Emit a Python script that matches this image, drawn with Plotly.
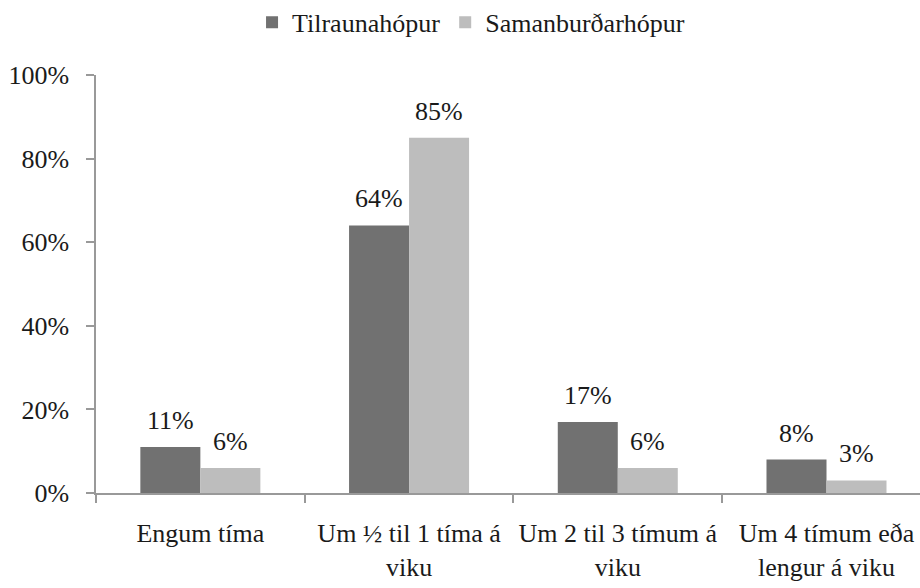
import plotly.graph_objects as go

categories = ["Engum tíma", "Um ½ til 1 tíma á<br>viku", "Um 2 til 3 tímum á<br>viku", "Um 4 tímum eða<br>lengur á viku"]
series_names = ["Tilraunahópur", "Samanburðarhópur"]
tilrauna = [0.11, 0.64, 0.17, 0.08]
samanburdar = [0.06, 0.85, 0.06, 0.03]
y_ticks = [0, 0.2, 0.4, 0.6, 0.8, 1.0]
y_ticklabels = ["0%", "20%", "40%", "60%", "80%", "100%"]

colors = ["#717171", "#bdbdbd"]
FONT = "'Liberation Serif', 'Times New Roman', serif"
FS = 26

fig = go.Figure()
for name, vals, col in zip(series_names, [tilrauna, samanburdar], colors):
    fig.add_trace(go.Bar(name=name, x=categories, y=vals, marker=dict(color=col, line=dict(width=0))))

annotations = []
for vals, shift in zip([tilrauna, samanburdar], [-30, 30]):
    for i, v in enumerate(vals):
        annotations.append(dict(x=i, y=v, xref="x", yref="y", text=f"{round(v*100)}%",
                                showarrow=False, xshift=shift, yshift=10, yanchor="bottom",
                                font=dict(family=FONT, size=FS, color="#1a1a1a")))

fig.update_layout(
    width=920, height=588,
    margin=dict(l=96, r=0, t=75, b=95, autoexpand=False),
    paper_bgcolor="white", plot_bgcolor="white",
    barmode="group", bargap=0.425, bargroupgap=0,
    font=dict(family=FONT, size=FS, color="#1a1a1a"),
    showlegend=True,
    legend=dict(orientation="h", xref="container", yref="container",
                x=0.512, xanchor="center", y=0.962, yanchor="middle",
                font=dict(family=FONT, size=FS, color="#1a1a1a"), itemsizing="constant"),
    annotations=annotations,
    xaxis=dict(type="category", range=[-0.5, 3.448], tickson="boundaries", automargin=False,
               ticks="outside", ticklen=8, tickwidth=1.5, tickcolor="#999999",
               showline=True, linecolor="#999999", linewidth=1.5, showgrid=False,
               ticklabelstandoff=16, tickfont=dict(family=FONT, size=FS)),
    yaxis=dict(range=[0, 1.0], tickvals=y_ticks, ticktext=y_ticklabels, automargin=False,
               ticks="outside", ticklen=8, tickwidth=1.5, tickcolor="#999999",
               showline=True, linecolor="#999999", linewidth=1.5, showgrid=False,
               zeroline=False, ticklabelstandoff=12, tickfont=dict(family=FONT, size=FS)),
)

fig.write_html("out.html", config={"displayModeBar": False},
               post_script="document.body.style.margin='0px';document.body.style.overflow='hidden';")
